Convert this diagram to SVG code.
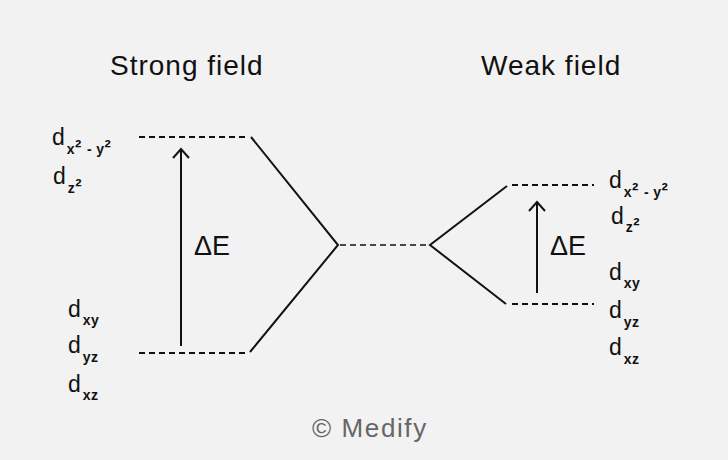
<svg xmlns="http://www.w3.org/2000/svg" width="728" height="460" viewBox="0 0 728 460">
<style>
.t{font-family:"Liberation Sans",Arial,sans-serif;fill:#111}
.title{font-size:28px;letter-spacing:1px}
.d{font-size:23px}
.s{font-size:14px;font-weight:bold;letter-spacing:0.4px}
.sq{font-size:19px}
.de{font-size:27px}
.lv{stroke:#111;stroke-width:2;stroke-dasharray:6 4;fill:none}
.ln{stroke:#111;stroke-width:2;fill:none}
</style>
<rect width="728" height="460" fill="#f2f2f2"/>
<g id="titles">
<text class="t title" x="110" y="75">Strong field</text>
<text class="t title" x="481" y="75">Weak field</text>
</g>
<g id="strong-levels">
<line class="lv" x1="139" y1="137" x2="249" y2="137"/>
<line class="lv" x1="139" y1="353" x2="249" y2="353"/>
</g>
<g id="weak-levels">
<line class="lv" x1="512" y1="185" x2="594" y2="185"/>
<line class="lv" x1="512" y1="304" x2="594" y2="304"/>
</g>
<g id="connectors">
<polyline class="ln" points="251,137 338,245 250,352"/>
<line class="lv" x1="340" y1="245" x2="430" y2="245" style="stroke-width:1.5"/>
<polyline class="ln" points="507,186 430,245 506,304"/>
<line class="ln" x1="181" y1="346" x2="181" y2="150"/>
<polyline class="ln" points="173,158 181,149 189,158"/>
<line class="ln" x1="537" y1="293" x2="537" y2="203"/>
<polyline class="ln" points="529,211 537,202 545,211"/>
</g>
<g id="delta-labels">
<text class="t de" x="194" y="255">ΔE</text>
<text class="t de" x="550" y="255">ΔE</text>
</g>
<g id="strong-labels">
<text class="t" x="52" y="145"><tspan class="d">d</tspan><tspan class="s" dx="2" dy="9">x<tspan class="sq">²</tspan> <tspan dx="1">-</tspan> y<tspan class="sq">²</tspan></tspan></text>
<text class="t" x="53" y="184"><tspan class="d">d</tspan><tspan class="s" dx="2" dy="9">z<tspan class="sq">²</tspan></tspan></text>
<text class="t" x="68" y="317"><tspan class="d">d</tspan><tspan class="s" dx="2" dy="8">xy</tspan></text>
<text class="t" x="68" y="353"><tspan class="d">d</tspan><tspan class="s" dx="2" dy="9">yz</tspan></text>
<text class="t" x="68" y="392"><tspan class="d">d</tspan><tspan class="s" dx="2" dy="8">xz</tspan></text>
</g>
<g id="weak-labels">
<text class="t" x="609" y="188"><tspan class="d">d</tspan><tspan class="s" dx="2" dy="9">x<tspan class="sq">²</tspan> <tspan dx="1">-</tspan> y<tspan class="sq">²</tspan></tspan></text>
<text class="t" x="611" y="224"><tspan class="d">d</tspan><tspan class="s" dx="2" dy="8">z<tspan class="sq">²</tspan></tspan></text>
<text class="t" x="609" y="280"><tspan class="d">d</tspan><tspan class="s" dx="2" dy="8">xy</tspan></text>
<text class="t" x="609" y="318"><tspan class="d">d</tspan><tspan class="s" dx="2" dy="9">yz</tspan></text>
<text class="t" x="609" y="355"><tspan class="d">d</tspan><tspan class="s" dx="2" dy="9">xz</tspan></text>
</g>
<g id="credit">
<text x="312" y="437" style="font-family:'Liberation Sans',Arial,sans-serif;font-size:26px;fill:#666;letter-spacing:1.6px">© Medify</text>
</g>
</svg>
